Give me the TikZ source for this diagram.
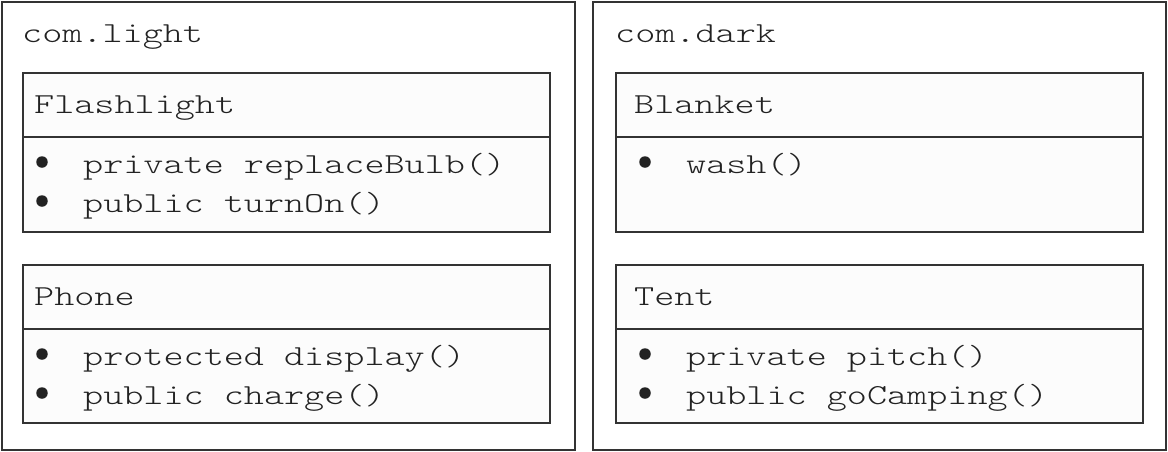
\documentclass[tikz,border=0pt]{standalone}
\usepackage{fontspec}
\newfontfamily\cour{lmmonolt10-regular.otf}[FakeStretch=1.32]
\definecolor{linec}{HTML}{333333}
\definecolor{textc}{HTML}{222222}
\definecolor{boxfill}{HTML}{FCFCFC}
\begin{document}
\begin{tikzpicture}[x=1pt,y=-1pt,
  pkgbox/.style={draw=linec, line width=2pt, fill=white, anchor=north west, inner sep=0pt, outer sep=0pt, minimum width=573pt, minimum height=448pt},
  partbox/.style={draw=linec, line width=2pt, fill=boxfill, anchor=north west, inner sep=0pt, outer sep=0pt, minimum width=527pt},
  lbl/.style={anchor=base west, inner sep=0pt, text=textc, font=\cour\fontsize{29}{29}\selectfont},
  bul/.style={circle, fill=textc, inner sep=0pt, minimum size=11.5pt}]
\useasboundingbox (0,0) rectangle (1168,451);
% packages
\node[pkgbox] (light) at (1.5,1.5) {};
\node[pkgbox] (dark) at (592.5,1.5) {};
\node[lbl] (lightname) at (22,42) {com.light};
\node[lbl] (darkname) at (615,42) {com.dark};
% Flashlight
\node[partbox, minimum height=64pt] (flh) at (22.5,73) {};
\node[partbox, minimum height=95pt] (flb) at (22.5,137) {};
\node[lbl] (flt) at (34,113) {Flashlight};
\node[bul] (fld1) at (42,162) {};
\node[lbl] (flm1) at (83,173) {private replaceBulb()};
\node[bul] (fld2) at (42,201) {};
\node[lbl] (flm2) at (83,212) {public turnOn()};
% Phone
\node[partbox, minimum height=64pt] (phh) at (22.5,265) {};
\node[partbox, minimum height=94pt] (phb) at (22.5,329) {};
\node[lbl] (pht) at (34,305) {Phone};
\node[bul] (phd1) at (42,354) {};
\node[lbl] (phm1) at (83,365) {protected display()};
\node[bul] (phd2) at (42,393) {};
\node[lbl] (phm2) at (83,404) {public charge()};
% Blanket
\node[partbox, minimum height=64pt] (blh) at (615.5,73) {};
\node[partbox, minimum height=95pt] (blb) at (615.5,137) {};
\node[lbl] (blt) at (634,113) {Blanket};
\node[bul] (bld1) at (645,162) {};
\node[lbl] (blm1) at (686,173) {wash()};
% Tent
\node[partbox, minimum height=64pt] (teh) at (615.5,265) {};
\node[partbox, minimum height=94pt] (teb) at (615.5,329) {};
\node[lbl] (tet) at (634,305) {Tent};
\node[bul] (ted1) at (645,354) {};
\node[lbl] (tem1) at (686,365) {private pitch()};
\node[bul] (ted2) at (645,393) {};
\node[lbl] (tem2) at (686,404) {public goCamping()};
\end{tikzpicture}
\end{document}
